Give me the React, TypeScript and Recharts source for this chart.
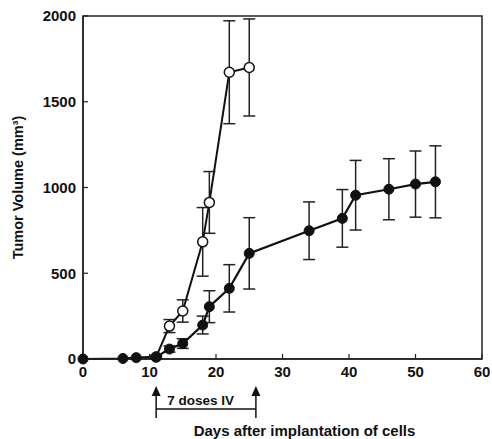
import React from "react";
import { ErrorBar, Line, LineChart, ReferenceArea, XAxis, YAxis } from "recharts";

// control group (open circles)
const controlDays = [11, 13, 15, 18, 19, 22, 25];
const controlVolume = [12, 192, 280, 683, 913, 1672, 1700];
const controlErr = [8, 38, 65, 200, 180, 300, 283];

// treated group (filled circles)
const treatedDays = [0, 6, 8, 11, 13, 15, 18, 19, 22, 25, 34, 39, 41, 46, 50, 53];
const treatedVolume = [0, 3, 8, 12, 58, 90, 198, 305, 412, 616, 748, 820, 955, 990, 1020, 1033];
const treatedErr = [0, 0, 0, 8, 18, 28, 52, 93, 138, 208, 168, 168, 203, 178, 193, 210];

const xTicks = [0, 10, 20, 30, 40, 50, 60];
const yTicks = [0, 500, 1000, 1500, 2000];

const doseStart = 11;
const doseEnd = 26;
const doseLabel = "7 doses IV";

const WIDTH = 492;
const HEIGHT = 439;
const MARGIN = { top: 16, right: 10, left: 0, bottom: 0 };
const Y_AXIS_W = 83;
const X_AXIS_H = 80;
const X_MAX = 60;

const FONT = '"Liberation Sans", Arial, Helvetica, sans-serif';
const INK = "#111";

const controlData = controlDays.map((day, i) => ({
  day,
  volume: controlVolume[i],
  err: controlErr[i]
}));

const treatedData = treatedDays.map((day, i) => ({
  day,
  volume: treatedVolume[i],
  err: treatedErr[i]
}));

// same linear mapping the chart uses for its x axis, for the annotation under it
function dayToPx(day: number) {
  const left = MARGIN.left + Y_AXIS_W;
  const width = WIDTH - left - MARGIN.right;
  return left + (day / X_MAX) * width;
}

function DoseBracket() {
  const x1 = dayToPx(doseStart);
  const x2 = dayToPx(doseEnd);
  const tipY = 386;
  const barY = 409;
  const endY = 418;

  return (
    <svg
      width={WIDTH}
      height={HEIGHT}
      style={{ position: "absolute", left: 0, top: 0, pointerEvents: "none" }}
    >
      {[x1, x2].map((x) => (
        <g key={x}>
          <line x1={x} x2={x} y1={tipY + 6} y2={endY} stroke={INK} strokeWidth={1.5} />
          <polygon points={`${x},${tipY} ${x - 4.5},${tipY + 10} ${x + 4.5},${tipY + 10}`} fill={INK} />
        </g>
      ))}
      <line x1={x1} x2={x2} y1={barY} y2={barY} stroke={INK} strokeWidth={1.5} />
      <text x={x1 + 11} y={405} fontSize={13.5} fontWeight={700} fill={INK}>
        {doseLabel}
      </text>
    </svg>
  );
}

export default function App() {
  const tickStyle = { fontSize: 15, fontWeight: 700, fill: INK };

  return (
    <div
      style={{
        position: "absolute",
        left: 0,
        top: 0,
        width: WIDTH,
        height: HEIGHT,
        background: "#fff",
        fontFamily: FONT
      }}
    >
      <LineChart width={WIDTH} height={HEIGHT} margin={MARGIN}>
        <XAxis
          type="number"
          dataKey="day"
          domain={[0, X_MAX]}
          ticks={xTicks}
          height={X_AXIS_H}
          tickSize={-5}
          tickMargin={12}
          tick={tickStyle}
          axisLine={{ stroke: "#222", strokeWidth: 1.5 }}
          tickLine={{ stroke: "#222", strokeWidth: 1.2 }}
          label={{
            value: "Days after implantation of cells",
            position: "insideBottom",
            offset: 3,
            dx: 22,
            style: { fontSize: 15, fontWeight: 700, fill: INK }
          }}
        />
        <YAxis
          type="number"
          dataKey="volume"
          domain={[0, 2000]}
          ticks={yTicks}
          width={Y_AXIS_W}
          tickSize={-5}
          tickMargin={12}
          tick={tickStyle}
          axisLine={{ stroke: "#222", strokeWidth: 1.5 }}
          tickLine={{ stroke: "#222", strokeWidth: 1.2 }}
          label={{
            value: "Tumor Volume (mm³)",
            angle: -90,
            position: "insideLeft",
            offset: 18,
            style: { fontSize: 14.5, fontWeight: 700, fill: INK, textAnchor: "middle" }
          }}
        />
        <ReferenceArea
          x1={0}
          x2={X_MAX}
          y1={0}
          y2={2000}
          fill="none"
          stroke="#222"
          strokeWidth={1.5}
        />
        <Line
          data={controlData}
          dataKey="volume"
          stroke={INK}
          strokeWidth={2}
          dot={{ r: 5, fill: "#fff", stroke: INK, strokeWidth: 1.5 }}
          isAnimationActive={false}
        >
          <ErrorBar dataKey="err" direction="y" width={6} stroke="#222" strokeWidth={1.5} />
        </Line>
        <Line
          data={treatedData}
          dataKey="volume"
          stroke={INK}
          strokeWidth={2.2}
          dot={{ r: 5, fill: INK, stroke: INK, strokeWidth: 1 }}
          isAnimationActive={false}
        >
          <ErrorBar dataKey="err" direction="y" width={6} stroke="#222" strokeWidth={1.5} />
        </Line>
      </LineChart>
      <DoseBracket />
    </div>
  );
}
